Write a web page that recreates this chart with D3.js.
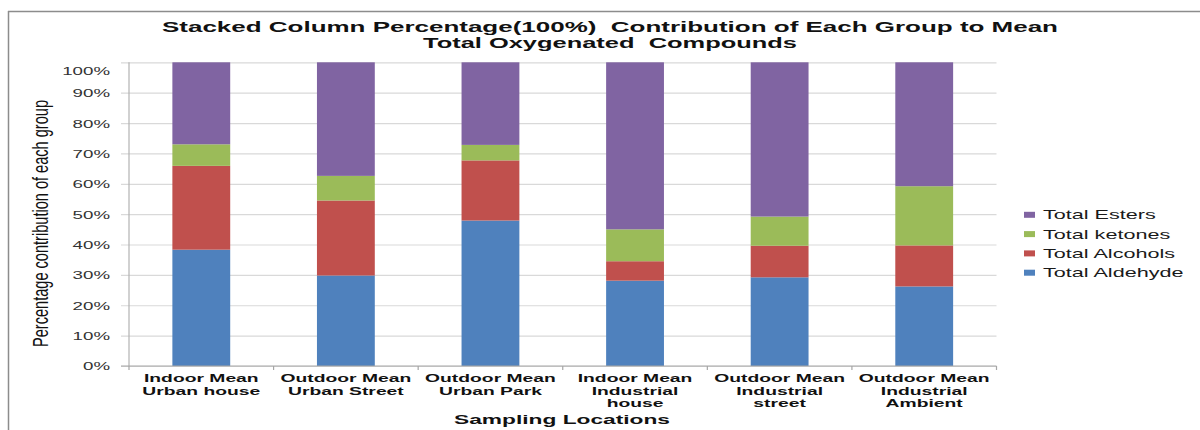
<!DOCTYPE html>
<html>
<head>
<meta charset="utf-8">
<script src="https://cdn.jsdelivr.net/npm/d3@7"></script>
<style>
  body { margin: 0; background: #fff; }
  svg { display: block; }
  text { font-family: "Liberation Sans", Arial, Helvetica, sans-serif; }
</style>
</head>
<body>
<svg id="chart" width="1200" height="430"></svg>
<script>
// Sampling locations (label lines as printed under each column)
const categories = ["Indoor Mean Urban house", "Outdoor Mean Urban Street", "Outdoor Mean Urban Park",
  "Indoor Mean Industrial house", "Outdoor Mean Industrial street", "Outdoor Mean Industrial Ambient"];
const categoryLines = [
  ["Indoor Mean", "Urban house"],
  ["Outdoor Mean", "Urban Street"],
  ["Outdoor Mean", "Urban Park"],
  ["Indoor Mean", "Industrial", "house"],
  ["Outdoor Mean", "Industrial", "street"],
  ["Outdoor Mean", "Industrial", "Ambient"]
];

// Share of each compound group (%), bottom to top of each column
const seriesNames = ["Total Aldehyde", "Total Alcohols", "Total ketones", "Total Esters"];
const aldehyde = [38.3, 29.8, 47.9, 28.1, 29.2, 26.2];
const alcohols = [27.6, 24.7, 19.8, 6.4, 10.4, 13.5];
const ketones  = [7.1, 8.1, 5.1, 10.5, 9.6, 19.5];
const esters   = [27.0, 37.4, 27.2, 55.0, 50.8, 40.8];
const seriesColors = ["#4F81BD", "#C0504D", "#9BBB59", "#8064A2"];

const yTicks = [0, 0.1, 0.2, 0.3, 0.4, 0.5, 0.6, 0.7, 0.8, 0.9, 1.0];

const svg = d3.select("#chart");
const SX = 1.7; // horizontal widening used for the wide label lettering

const plot = { left: 129, right: 996.5, top: 62.3, bottom: 366 };

const rows = categories.map((c, i) => ({
  category: c,
  "Total Aldehyde": aldehyde[i],
  "Total Alcohols": alcohols[i],
  "Total ketones": ketones[i],
  "Total Esters": esters[i]
}));

const stacked = d3.stack().keys(seriesNames).offset(d3.stackOffsetExpand)(rows);

const x = d3.scaleBand().domain(categories).range([plot.left, plot.right]).padding(0);
const y = d3.scaleLinear().domain([0, 1]).range([plot.bottom, plot.top]);
const color = d3.scaleOrdinal().domain(seriesNames).range(seriesColors);

// Outer chart frame (top and left edges)
svg.append("line").attr("x1", 8).attr("x2", 1200).attr("y1", 11.5).attr("y2", 11.5)
  .attr("stroke", "#8c8c8c").attr("stroke-width", 1.5);
svg.append("line").attr("x1", 8.5).attr("x2", 8.5).attr("y1", 11).attr("y2", 430)
  .attr("stroke", "#8c8c8c").attr("stroke-width", 1.5);

// Gridlines + percentage labels, drawn leftward from the right edge of the plot
const gridAxis = d3.axisLeft(y)
  .tickValues(yTicks)
  .tickSize(plot.right - 121)
  .tickPadding(11)
  .tickFormat(d3.format(".0%"));
const grid = svg.append("g").attr("transform", `translate(${plot.right},0)`).call(gridAxis);
grid.select(".domain").remove();
grid.selectAll(".tick line").attr("stroke", "#d9d9d9").attr("stroke-width", 1.2);
grid.selectAll(".tick text")
  .attr("fill", "#333")
  .style("font-size", "11px")
  .attr("dy", d => d === 1 ? "1.15em" : "0.36em")
  .each(function () {
    const t = d3.select(this);
    const xx = +t.attr("x");
    t.attr("x", xx / SX).attr("transform", `scale(${SX},1)`);
  });

// Vertical value axis line
svg.append("line")
  .attr("x1", plot.left).attr("x2", plot.left)
  .attr("y1", y(1)).attr("y2", y(0))
  .attr("stroke", "#b3b3b3").attr("stroke-width", 1.2);

// Stacked columns
const barW = x.bandwidth() * 0.4;
svg.append("g").selectAll("g")
  .data(stacked)
  .join("g")
  .attr("fill", d => color(d.key))
  .selectAll("rect")
  .data(d => d)
  .join("rect")
  .attr("x", d => x(d.data.category) + (x.bandwidth() - barW) / 2)
  .attr("y", d => y(d[1]))
  .attr("width", barW)
  .attr("height", d => y(d[0]) - y(d[1]));

// Category axis: baseline and boundary ticks
const xAxis = svg.append("g").attr("transform", `translate(0,${plot.bottom})`)
  .call(d3.axisBottom(x).tickSize(0).tickFormat(""));
xAxis.select(".domain").attr("stroke", "#a6a6a6").attr("stroke-width", 1.2)
  .attr("d", `M121,0H${plot.right}`);
const boundaries = categories.map(c => x(c)).concat([plot.right]);
xAxis.selectAll(".boundary")
  .data(boundaries)
  .join("line")
  .attr("class", "boundary")
  .attr("x1", d => d).attr("x2", d => d)
  .attr("y1", 0).attr("y2", 4)
  .attr("stroke", "#a6a6a6").attr("stroke-width", 1.2);

// Category labels
const catLabels = svg.append("g").selectAll("text")
  .data(categories)
  .join("text")
  .attr("transform", (d, i) => `translate(${x(d) + x.bandwidth() / 2},382.3) scale(1.68,1)`)
  .attr("text-anchor", "middle")
  .style("font-size", "11.5px")
  .style("font-weight", "bold")
  .attr("fill", "#111");
catLabels.each(function (d, i) {
  d3.select(this).selectAll("tspan")
    .data(categoryLines[i])
    .join("tspan")
    .attr("x", 0)
    .attr("dy", (l, j) => j === 0 ? 0 : 12.3)
    .text(l => l);
});

// Titles
svg.append("text")
  .attr("x", 610).attr("y", 32)
  .attr("text-anchor", "middle")
  .attr("textLength", 896).attr("lengthAdjust", "spacingAndGlyphs")
  .style("white-space", "pre")
  .style("font-size", "15px").style("font-weight", "bold").attr("fill", "#111")
  .text("Stacked Column Percentage(100%)  Contribution of Each Group to Mean");
svg.append("text")
  .attr("x", 610).attr("y", 48)
  .attr("text-anchor", "middle")
  .attr("textLength", 374).attr("lengthAdjust", "spacingAndGlyphs")
  .style("white-space", "pre")
  .style("font-size", "15px").style("font-weight", "bold").attr("fill", "#111")
  .text("Total Oxygenated  Compounds");

svg.append("text")
  .attr("x", 562).attr("y", 424)
  .attr("text-anchor", "middle")
  .attr("textLength", 216).attr("lengthAdjust", "spacingAndGlyphs")
  .style("font-size", "12.5px").style("font-weight", "bold").attr("fill", "#111")
  .text("Sampling Locations");

svg.append("text")
  .attr("transform", "translate(48,223.5) rotate(-90) scale(1,1.5)")
  .attr("text-anchor", "middle")
  .attr("textLength", 247).attr("lengthAdjust", "spacingAndGlyphs")
  .style("font-size", "14.5px").attr("fill", "#111")
  .text("Percentage contribution of each group");

// Legend (top series listed first)
const legendItems = seriesNames.slice().reverse();
const legend = svg.append("g").selectAll("g")
  .data(legendItems)
  .join("g")
  .attr("transform", (d, i) => `translate(1024,${219.3 + i * 19.3})`);
legend.append("rect")
  .attr("x", 0).attr("y", -7.5)
  .attr("width", 11).attr("height", 6)
  .attr("fill", d => color(d));
legend.append("text")
  .attr("transform", `translate(19,0) scale(1.8,1)`)
  .style("font-size", "12px")
  .attr("fill", "#1a1a1a")
  .text(d => d);
</script>
</body>
</html>
